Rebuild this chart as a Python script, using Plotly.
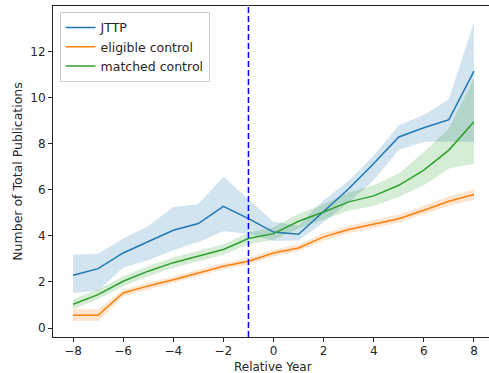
import plotly.graph_objects as go

years = list(range(-8, 9))

jttp_mean = [2.29, 2.58, 3.26, 3.74, 4.25, 4.54, 5.29, 4.75, 4.17, 4.07, 5.05, 6.05, 7.15, 8.30, 8.70, 9.05, 11.16]
jttp_low = [1.52, 1.62, 2.63, 2.94, 3.38, 3.74, 4.20, 4.10, 3.78, 3.80, 4.60, 5.45, 6.42, 7.73, 8.09, 8.09, 8.09]
jttp_high = [3.18, 3.23, 3.89, 4.42, 5.26, 5.38, 6.57, 5.60, 4.62, 4.45, 5.55, 6.40, 7.50, 8.81, 9.25, 9.94, 13.30]

elig_mean = [0.55, 0.55, 1.52, 1.83, 2.10, 2.39, 2.68, 2.90, 3.26, 3.48, 3.96, 4.28, 4.51, 4.75, 5.12, 5.51, 5.80]
elig_low = [0.30, 0.30, 1.38, 1.69, 1.96, 2.25, 2.54, 2.76, 3.11, 3.33, 3.80, 4.12, 4.34, 4.57, 4.93, 5.31, 5.57]
elig_high = [0.82, 0.82, 1.66, 1.97, 2.24, 2.53, 2.82, 3.04, 3.41, 3.63, 4.12, 4.44, 4.68, 4.93, 5.31, 5.71, 6.03]

match_mean = [1.03, 1.45, 2.03, 2.47, 2.84, 3.12, 3.41, 3.89, 4.10, 4.64, 5.04, 5.48, 5.74, 6.20, 6.86, 7.73, 8.96]
match_low = [0.82, 1.25, 1.81, 2.25, 2.62, 2.90, 3.18, 3.64, 3.82, 4.32, 4.70, 5.10, 5.30, 5.70, 6.20, 6.93, 7.15]
match_high = [1.26, 1.67, 2.25, 2.69, 3.06, 3.34, 3.64, 4.14, 4.38, 4.96, 5.38, 5.90, 6.20, 6.71, 7.65, 8.67, 10.84]

series = [
    ("JTTP", jttp_mean, jttp_low, jttp_high, "#1f77b4", "rgba(31,119,180,0.2)"),
    ("eligible control", elig_mean, elig_low, elig_high, "#ff7f0e", "rgba(255,127,14,0.2)"),
    ("matched control", match_mean, match_low, match_high, "#2ca02c", "rgba(44,160,44,0.2)"),
]

fig = go.Figure()
for name, m, lo, hi, col, fcol in series:
    fig.add_trace(go.Scatter(
        x=years + years[::-1], y=hi + lo[::-1], fill="toself", fillcolor=fcol,
        line=dict(width=0), mode="lines", showlegend=False, hoverinfo="skip"))
for name, m, lo, hi, col, fcol in series:
    fig.add_trace(go.Scatter(x=years, y=m, mode="lines", name=name,
                             line=dict(color=col, width=1.5)))

fig.add_shape(type="line", xref="x", yref="paper", x0=-1, x1=-1, y0=0, y1=1,
              line=dict(color="#0000ff", width=1.5, dash="6px,3px"), layer="above")

fig.add_annotation(text="Relative Year", xref="paper", yref="paper", x=0.505, y=-0.0906,
                   xanchor="center", yanchor="middle", showarrow=False,
                   font=dict(family="DejaVu Sans", size=12, color="#262626"))

axis_common = dict(showline=True, linecolor="#262626", linewidth=1, mirror=True,
                   ticks="outside", ticklen=4, tickcolor="#262626", showgrid=False,
                   zeroline=False, automargin=False,
                   tickfont=dict(family="DejaVu Sans", size=12, color="#262626"))

fig.update_layout(
    width=489, height=373,
    margin=dict(l=53, r=0, t=6, b=36),
    plot_bgcolor="white", paper_bgcolor="white",
    font=dict(family="DejaVu Sans", size=12, color="#262626"),
    xaxis=dict(range=[-8.8, 8.6], tickvals=[-8, -6, -4, -2, 0, 2, 4, 6, 8],
               ticklabelstandoff=-1, **axis_common),
    yaxis=dict(range=[-0.39, 13.99], tickvals=[0, 2, 4, 6, 8, 10, 12],
               title=dict(text="Number of Total Publications", font=dict(size=12.5), standoff=4), **axis_common),
    legend=dict(x=0.015, y=0.982, xanchor="left", yanchor="top",
                bordercolor="#cccccc", borderwidth=1, bgcolor="rgba(255,255,255,0.8)",
                font=dict(size=12.5), tracegroupgap=0, itemwidth=30),
    showlegend=True,
)

fig.write_html("out.html")
